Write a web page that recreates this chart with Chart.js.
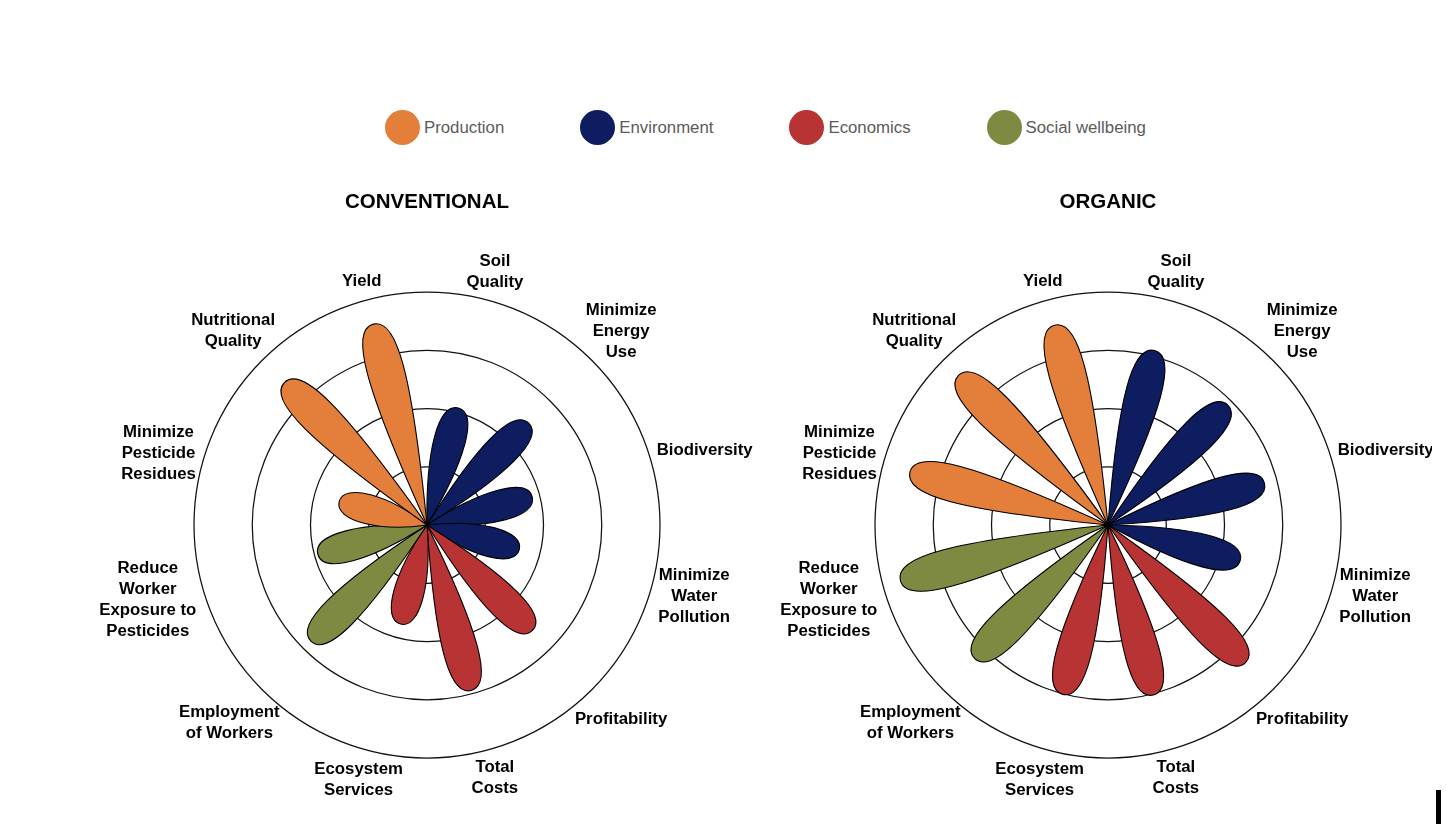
<!DOCTYPE html>
<html>
<head>
<meta charset="utf-8">
<title>Conventional vs Organic</title>
<script src="https://cdn.jsdelivr.net/npm/chart.js@4.4.1/dist/chart.umd.min.js"></script>
<style>
    html, body { margin: 0; padding: 0; background: #fff; overflow: hidden; }
    #page { position: relative; width: 1432px; height: 824px; overflow: hidden; }
    .legend {
        position: absolute; left: 385px; top: 110px;
        display: flex; align-items: center;
        font-family: "Liberation Sans", Arial, Helvetica, sans-serif;
        font-size: 16.8px; color: #5b5b5b;
    }
    .legend-item { display: flex; align-items: center; margin-right: 76px; }
    .legend-dot { width: 35px; height: 35px; border-radius: 50%; margin-right: 4px; }
    .chart-box { position: absolute; top: 180px; width: 681px; height: 644px; }
    #cursor { position: absolute; left: 1436px; top: 790px; width: 5px; height: 34px; background: #000; }
</style>
</head>
<body>
<div id="page">
    <div class="legend" id="legend"></div>
    <div class="chart-box" style="left: 87px;"><canvas id="conventional" width="681" height="644"></canvas></div>
    <div class="chart-box" style="left: 768px;"><canvas id="organic" width="681" height="644"></canvas></div>
</div>
<div id="cursor"></div>

<script>
// categories go clockwise, starting just right of the top
const categories = [
    ['Soil', 'Quality'],
    ['Minimize', 'Energy', 'Use'],
    ['Biodiversity'],
    ['Minimize', 'Water', 'Pollution'],
    ['Profitability'],
    ['Total', 'Costs'],
    ['Ecosystem', 'Services'],
    ['Employment', 'of Workers'],
    ['Reduce', 'Worker', 'Exposure to', 'Pesticides'],
    ['Minimize', 'Pesticide', 'Residues'],
    ['Nutritional', 'Quality'],
    ['Yield']
];
const categoryGroups = [
    'Environment', 'Environment', 'Environment', 'Environment',
    'Economics', 'Economics', 'Economics',
    'Social wellbeing', 'Social wellbeing',
    'Production', 'Production', 'Production'
];
const conventionalScores = [2.08, 2.47, 1.87, 1.64, 2.56, 2.94, 1.76, 2.82, 1.94, 1.56, 3.46, 3.57];
const organicScores = [3.10, 2.91, 2.78, 2.35, 3.34, 3.02, 3.01, 3.24, 3.69, 3.52, 3.63, 3.55];
const groupNames = ['Production', 'Environment', 'Economics', 'Social wellbeing'];
const ringMax = 4;

const groupColors = {
    'Production': '#e37f3b',
    'Environment': '#0d1d5f',
    'Economics': '#b83434',
    'Social wellbeing': '#7e8a41'
};

const fontFamily = '"Liberation Sans", Arial, Helvetica, sans-serif';
Chart.defaults.font.family = fontFamily;

// draws each arc as a petal instead of a wedge
const petalPlugin = {
    id: 'petals',
    beforeDatasetDraw(chart, args) {
        const ctx = chart.ctx;
        const scale = chart.scales.r;
        ctx.save();
        args.meta.data.forEach(arc => {
            const p = arc.getProps(['x', 'y', 'startAngle', 'endAngle', 'outerRadius'], true);
            const len = p.outerRadius;
            if (!(len > 0)) return;
            const half = (0.1 * scale.drawingArea + 0.065 * len) / 2;
            const a = Math.min(0.8, Math.max(0.35, 1 - 3.14 * half / len));
            const cp = half * 4 / 3;
            ctx.save();
            ctx.translate(p.x, p.y);
            ctx.rotate((p.startAngle + p.endAngle) / 2);
            ctx.beginPath();
            ctx.moveTo(0, 0);
            ctx.bezierCurveTo(a * len, -cp, len, -cp, len, 0);
            ctx.bezierCurveTo(len, cp, a * len, cp, 0, 0);
            ctx.closePath();
            ctx.fillStyle = arc.options.backgroundColor;
            ctx.fill();
            ctx.lineWidth = 1.1;
            ctx.strokeStyle = '#000';
            ctx.stroke();
            ctx.restore();
        });
        ctx.restore();
        return false;
    }
};

// category names outside the outer ring, centred on each petal direction
const outerLabelPlugin = {
    id: 'outerLabels',
    afterDraw(chart) {
        const ctx = chart.ctx;
        const scale = chart.scales.r;
        const arcs = chart.getDatasetMeta(0).data;
        const lineH = 21;
        ctx.save();
        ctx.font = 'bold 16.8px ' + fontFamily;
        ctx.fillStyle = '#000';
        ctx.textAlign = 'center';
        ctx.textBaseline = 'middle';
        chart.data.labels.forEach((lines, i) => {
            const p = arcs[i].getProps(['startAngle', 'endAngle'], true);
            const ang = (p.startAngle + p.endAngle) / 2;
            const dx = Math.cos(ang), dy = Math.sin(ang);
            const w = Math.max(...lines.map(l => ctx.measureText(l).width));
            const h = lines.length * lineH;
            const d = scale.drawingArea + 8 + Math.hypot(w / 2 * dx, h / 2 * dy);
            const cx = scale.xCenter + d * dx;
            const cy = scale.yCenter + d * dy;
            lines.forEach((line, k) => ctx.fillText(line, cx, cy - h / 2 + lineH * (k + 0.5)));
        });
        ctx.restore();
    }
};

function makeChart(id, title, scores) {
    return new Chart(document.getElementById(id), {
        type: 'polarArea',
        data: {
            labels: categories,
            datasets: [{
                data: scores,
                backgroundColor: categoryGroups.map(g => groupColors[g]),
                borderColor: '#000',
                borderWidth: 1
            }]
        },
        options: {
            responsive: false,
            animation: false,
            layout: { padding: { left: 107, right: 108, top: 0, bottom: 66 } },
            scales: {
                r: {
                    min: 0,
                    max: ringMax,
                    ticks: { display: false, stepSize: 1 },
                    grid: { color: '#111', lineWidth: 1.25 },
                    angleLines: { display: false },
                    pointLabels: { display: false }
                }
            },
            plugins: {
                legend: { display: false },
                tooltip: { enabled: false },
                title: {
                    display: true,
                    text: title,
                    color: '#000',
                    font: { size: 20.5, weight: 'bold' },
                    padding: { top: 10, bottom: 77.4 }
                }
            }
        },
        plugins: [petalPlugin, outerLabelPlugin]
    });
}

document.addEventListener('DOMContentLoaded', function() {
    const legend = document.getElementById('legend');
    groupNames.forEach(name => {
        const item = document.createElement('div');
        item.className = 'legend-item';
        const dot = document.createElement('span');
        dot.className = 'legend-dot';
        dot.style.background = groupColors[name];
        const text = document.createElement('span');
        text.textContent = name;
        item.appendChild(dot);
        item.appendChild(text);
        legend.appendChild(item);
    });

    makeChart('conventional', 'CONVENTIONAL', conventionalScores);
    makeChart('organic', 'ORGANIC', organicScores);
});
</script>
</body>
</html>
